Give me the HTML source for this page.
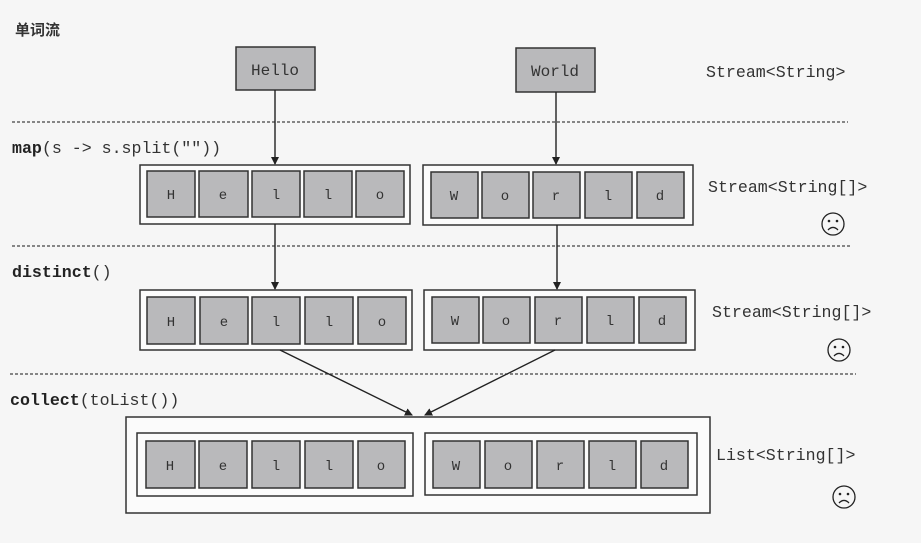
<!DOCTYPE html>
<html><head><meta charset="utf-8"><style>
html,body{margin:0;padding:0;background:#f6f6f6;}
svg{display:block}
text{font-family:"Liberation Mono",monospace;font-size:16.6px;fill:#333}
.c{fill:#b9b9bb;stroke:#333;stroke-width:1.5}
.o{fill:#fbfbfb;stroke:#333;stroke-width:1.5}
.d{stroke:#444;stroke-width:1.2;stroke-dasharray:3 2}
.a{stroke:#222;stroke-width:1.4;fill:none}
.l{font-size:14px;text-anchor:middle}
</style></head><body>
<svg width="921" height="543" viewBox="0 0 921 543" xmlns="http://www.w3.org/2000/svg">
<defs><marker id="ar" markerWidth="8" markerHeight="8" refX="7" refY="4" orient="auto" markerUnits="userSpaceOnUse"><path d="M0,0 L8,4 L0,8 z" fill="#222"/></marker></defs>
<text x="15" y="35" style="font-family:'Liberation Sans','Noto Sans CJK SC',sans-serif;font-size:15px;font-weight:bold">单词流</text>
<rect class="c" x="236" y="47" width="79" height="43"/><text x="275" y="75" class="l" style="font-size:16px">Hello</text>
<rect class="c" x="516" y="48" width="79" height="44"/><text x="555" y="76" class="l" style="font-size:16px">World</text>
<text x="706" y="77">Stream&lt;String&gt;</text>
<line class="d" x1="12" y1="122" x2="848" y2="122"/>
<text x="12" y="153"><tspan font-weight="bold" fill="#222">map</tspan>(s -&gt; s.split(""))</text>
<line class="a" x1="275" y1="90" x2="275" y2="164" marker-end="url(#ar)"/>
<line class="a" x1="556" y1="92" x2="556" y2="164" marker-end="url(#ar)"/>

<rect class="o" x="140" y="165" width="270" height="59"/>
<rect class="o" x="423" y="165" width="270" height="60"/>
<rect class="c" x="147" y="171" width="48" height="46"/><text class="l" x="171" y="199">H</text>
<rect class="c" x="199" y="171" width="49" height="46"/><text class="l" x="223" y="199">e</text>
<rect class="c" x="252" y="171" width="48" height="46"/><text class="l" x="276" y="199">l</text>
<rect class="c" x="304" y="171" width="48" height="46"/><text class="l" x="328" y="199">l</text>
<rect class="c" x="356" y="171" width="48" height="46"/><text class="l" x="380" y="199">o</text>
<rect class="c" x="431" y="172" width="47" height="46"/><text class="l" x="454" y="200">W</text>
<rect class="c" x="482" y="172" width="47" height="46"/><text class="l" x="505" y="200">o</text>
<rect class="c" x="533" y="172" width="47" height="46"/><text class="l" x="556" y="200">r</text>
<rect class="c" x="585" y="172" width="47" height="46"/><text class="l" x="608" y="200">l</text>
<rect class="c" x="637" y="172" width="47" height="46"/><text class="l" x="660" y="200">d</text>
<text x="708" y="192">Stream&lt;String[]&gt;</text>
<g transform="translate(833,224)"><circle r="11" fill="none" stroke="#222" stroke-width="1.3"/><circle cx="-4" cy="-3" r="1.3" fill="#222"/><circle cx="4" cy="-3" r="1.3" fill="#222"/><path d="M-5,6 Q0,1 5,6" fill="none" stroke="#222" stroke-width="1.3"/></g>
<line class="d" x1="12" y1="246" x2="850" y2="246"/>
<text x="12" y="277"><tspan font-weight="bold" fill="#222">distinct</tspan>()</text>
<line class="a" x1="275" y1="224" x2="275" y2="289" marker-end="url(#ar)"/>
<line class="a" x1="557" y1="225" x2="557" y2="289" marker-end="url(#ar)"/>

<rect class="o" x="140" y="290" width="272" height="60"/>
<rect class="o" x="424" y="290" width="271" height="60"/>
<rect class="c" x="147" y="297" width="48" height="47"/><text class="l" x="171" y="326">H</text>
<rect class="c" x="200" y="297" width="48" height="47"/><text class="l" x="224" y="326">e</text>
<rect class="c" x="252" y="297" width="48" height="47"/><text class="l" x="276" y="326">l</text>
<rect class="c" x="305" y="297" width="48" height="47"/><text class="l" x="329" y="326">l</text>
<rect class="c" x="358" y="297" width="48" height="47"/><text class="l" x="382" y="326">o</text>
<rect class="c" x="432" y="297" width="47" height="46"/><text class="l" x="455" y="325">W</text>
<rect class="c" x="483" y="297" width="47" height="46"/><text class="l" x="506" y="325">o</text>
<rect class="c" x="535" y="297" width="47" height="46"/><text class="l" x="558" y="325">r</text>
<rect class="c" x="587" y="297" width="47" height="46"/><text class="l" x="610" y="325">l</text>
<rect class="c" x="639" y="297" width="47" height="46"/><text class="l" x="662" y="325">d</text>
<text x="712" y="317">Stream&lt;String[]&gt;</text>
<g transform="translate(839,350)"><circle r="11" fill="none" stroke="#222" stroke-width="1.3"/><circle cx="-4" cy="-3" r="1.3" fill="#222"/><circle cx="4" cy="-3" r="1.3" fill="#222"/><path d="M-5,6 Q0,1 5,6" fill="none" stroke="#222" stroke-width="1.3"/></g>
<line class="d" x1="10" y1="374" x2="856" y2="374"/>
<text x="10" y="405"><tspan font-weight="bold" fill="#222">collect</tspan>(toList())</text>
<line class="a" x1="280" y1="350" x2="412" y2="415" marker-end="url(#ar)"/>
<line class="a" x1="555" y1="350" x2="425" y2="415" marker-end="url(#ar)"/>

<rect class="o" x="126" y="417" width="584" height="96"/>
<rect class="o" x="137" y="433" width="276" height="63"/>
<rect class="o" x="425" y="433" width="272" height="62"/>
<rect class="c" x="146" y="441" width="49" height="47"/><text class="l" x="170" y="470">H</text>
<rect class="c" x="199" y="441" width="48" height="47"/><text class="l" x="223" y="470">e</text>
<rect class="c" x="252" y="441" width="48" height="47"/><text class="l" x="276" y="470">l</text>
<rect class="c" x="305" y="441" width="48" height="47"/><text class="l" x="329" y="470">l</text>
<rect class="c" x="358" y="441" width="47" height="47"/><text class="l" x="381" y="470">o</text>
<rect class="c" x="433" y="441" width="47" height="47"/><text class="l" x="456" y="470">W</text>
<rect class="c" x="485" y="441" width="47" height="47"/><text class="l" x="508" y="470">o</text>
<rect class="c" x="537" y="441" width="47" height="47"/><text class="l" x="560" y="470">r</text>
<rect class="c" x="589" y="441" width="47" height="47"/><text class="l" x="612" y="470">l</text>
<rect class="c" x="641" y="441" width="47" height="47"/><text class="l" x="664" y="470">d</text>
<text x="716" y="460">List&lt;String[]&gt;</text>
<g transform="translate(844,497)"><circle r="11" fill="none" stroke="#222" stroke-width="1.3"/><circle cx="-4" cy="-3" r="1.3" fill="#222"/><circle cx="4" cy="-3" r="1.3" fill="#222"/><path d="M-5,6 Q0,1 5,6" fill="none" stroke="#222" stroke-width="1.3"/></g>
</svg>
</body></html>
